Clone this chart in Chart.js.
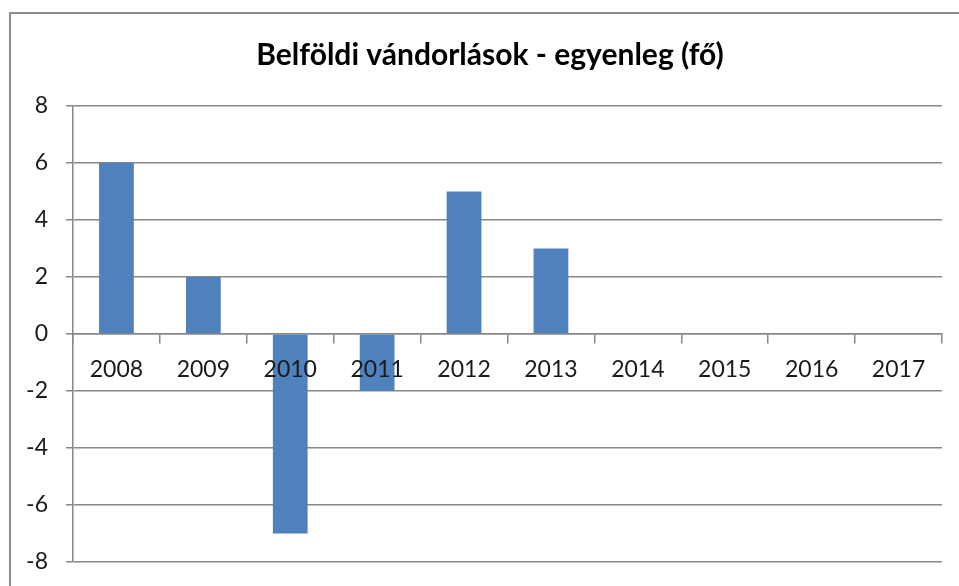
<!DOCTYPE html>
<html>
<head>
<meta charset="utf-8">
<script src="https://cdn.jsdelivr.net/npm/chart.js@4"></script>
<style>
  html, body { margin: 0; padding: 0; overflow: hidden; background: #fff; }
  #wrap { position: relative; width: 959px; height: 586px; }
  #frame { position: absolute; left: 9px; top: 12px; width: 1000px; height: 700px;
           border-left: 2px solid #8c8c8c; border-top: 2px solid #8c8c8c; }
  canvas { position: absolute; left: 0; top: 0; }
</style>
</head>
<body>
<div id="wrap">
  <div id="frame"></div>
  <canvas id="chart" width="959" height="586"></canvas>
</div>
<script>
const years = ['2008','2009','2010','2011','2012','2013','2014','2015','2016','2017']
const balance = [6, 2, -7, -2, 5, 3, 0, 0, 0, 0]
const chartTitle = 'Belföldi vándorlások - egyenleg (fő)'
const yMin = -8, yMax = 8, yStep = 2

const gray = '#878787'
const font = 'Lato'

// excel centres the title on the whole frame, which runs past the right edge
const shiftTitle = {
    id: 'shiftTitle',
    afterLayout: c => { c.titleBlock.left = 38 }
}

new Chart('chart', {
    type: 'bar',
    data: {
        labels: years,
        datasets: [{
            data: balance,
            backgroundColor: '#4f81bd',
            borderWidth: 0,
            categoryPercentage: 0.4,
            barPercentage: 1
        }]
    },
    options: {
        responsive: false,
        animation: false,
        layout: { padding: { left: 0, right: 17, top: 0, bottom: 24 } },
        plugins: {
            legend: { display: false },
            tooltip: { enabled: false },
            title: {
                display: true,
                text: chartTitle,
                color: '#000',
                font: { family: font, size: 30, weight: 'bold' },
                padding: { top: 37, bottom: 33 }
            }
        },
        scales: {
            x: {
                position: { y: 0 },
                grid: { drawOnChartArea: false, drawTicks: true, tickLength: 9, offset: true, color: gray, lineWidth: 1.5 },
                border: { display: true, color: gray, width: 1.5 },
                ticks: { z: 1, color: '#1a1a1a', font: { family: font, size: 23 }, padding: 13, maxRotation: 0 }
            },
            y: {
                min: yMin,
                max: yMax,
                afterFit: s => { s.width = 73; s.paddingTop = 10; s.paddingBottom = 10 },
                grid: { color: gray, lineWidth: 1.5, tickLength: 7 },
                border: { display: true, color: gray, width: 1.5 },
                ticks: { stepSize: yStep, color: '#1a1a1a', font: { family: font, size: 23 }, padding: 18 }
            }
        }
    },
    plugins: [shiftTitle]
})
</script>
</body>
</html>
